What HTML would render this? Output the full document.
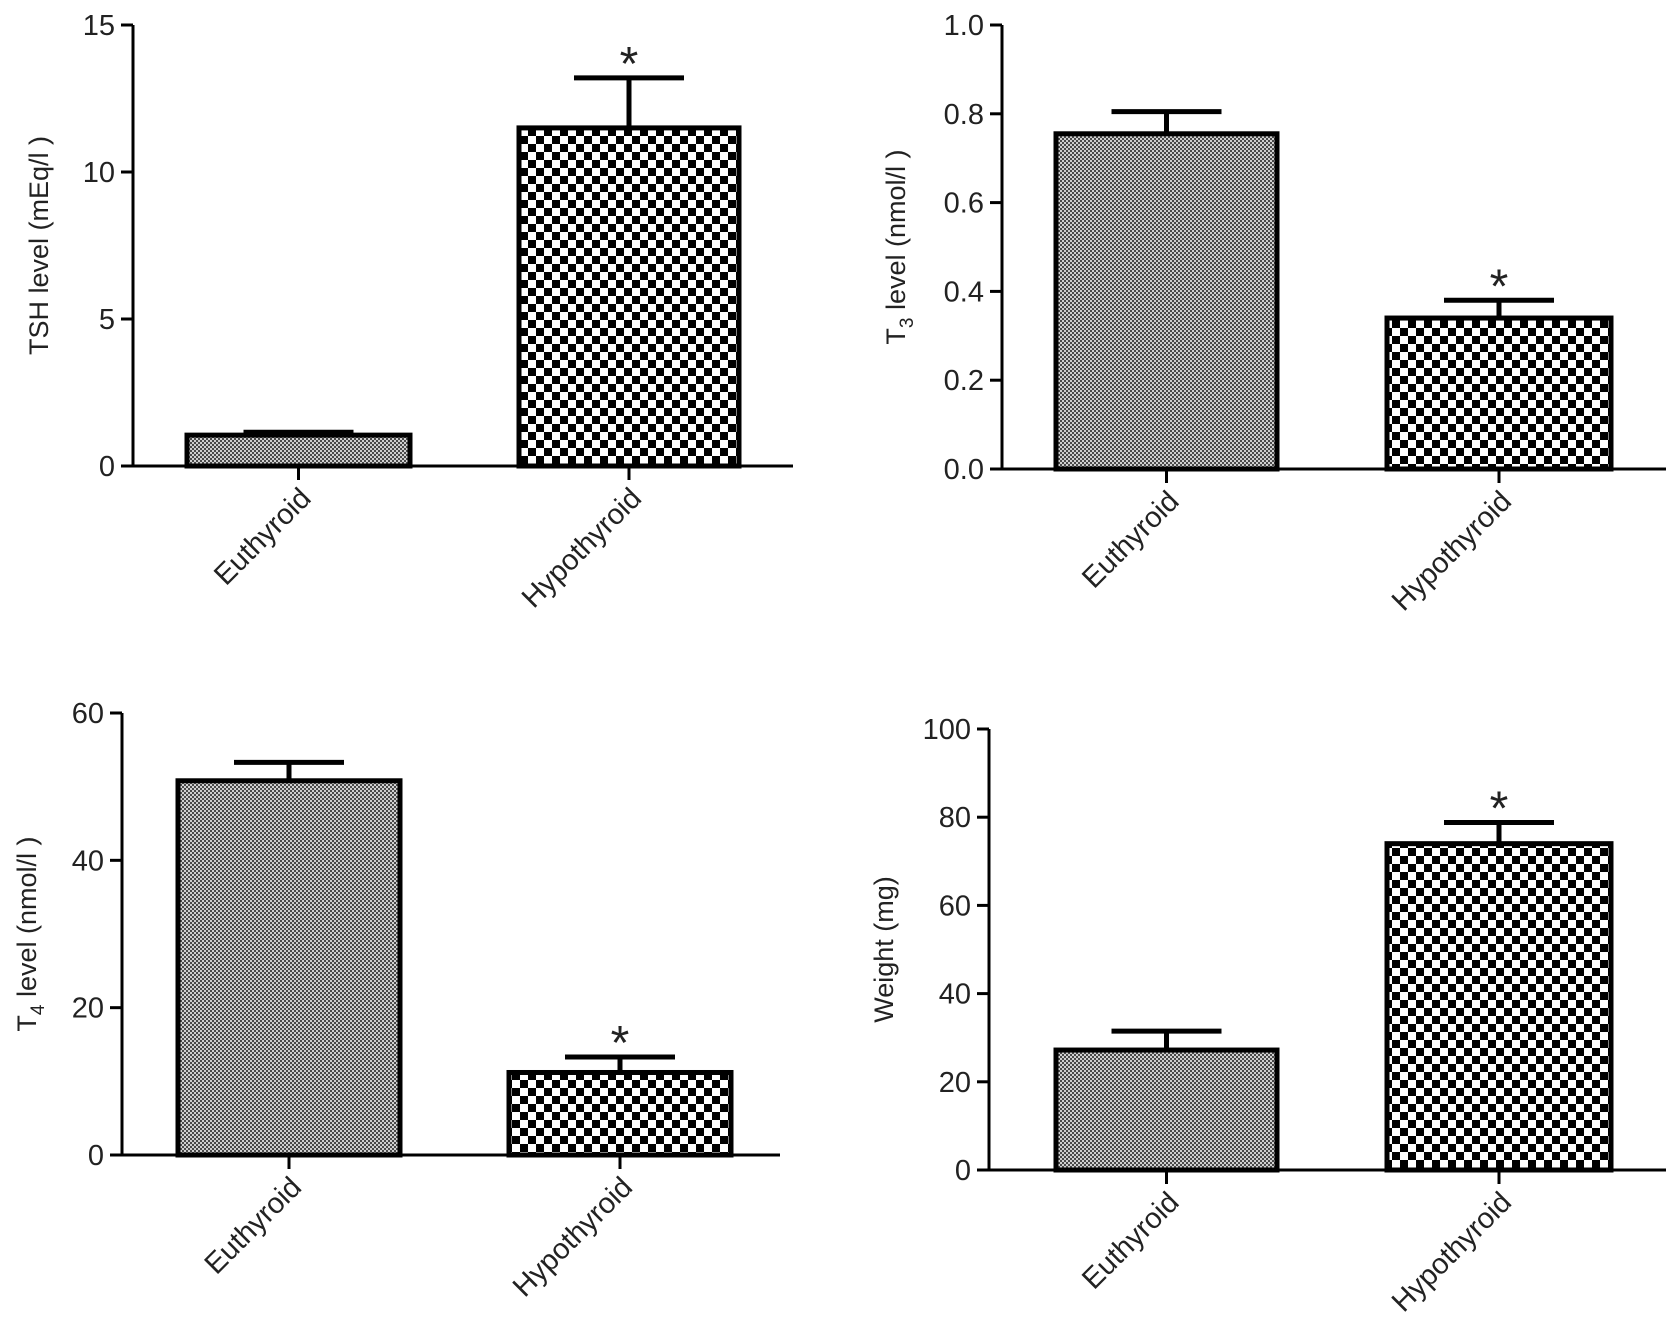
<!DOCTYPE html>
<html><head><meta charset="utf-8"><style>
html,body{margin:0;padding:0;background:#fff;}
svg{display:block;font-family:"Liberation Sans",Arial,sans-serif;}
</style></head><body>
<svg id="fig" width="1677" height="1344" viewBox="0 0 1677 1344" xmlns="http://www.w3.org/2000/svg">
<defs>
<pattern id="fine" width="4" height="4" patternUnits="userSpaceOnUse">
<rect width="4" height="4" fill="#d0d0d0"/><rect width="2" height="2" fill="#4a4a4a"/><rect x="2" y="2" width="2" height="2" fill="#4a4a4a"/>
</pattern>
<pattern id="coarse" width="16" height="16" patternUnits="userSpaceOnUse">
<rect width="16" height="16" fill="#fff"/><rect width="8" height="8" fill="#000"/><rect x="8" y="8" width="8" height="8" fill="#000"/>
</pattern>
</defs>
</svg>
<script>
const categories = ["Euthyroid", "Hypothyroid"];
const tshValues = [1.05, 11.5];
const tshErrors = [0.1, 1.7];
const tshTicks = ["0", "5", "10", "15"];
const t3Values = [0.755, 0.34];
const t3Errors = [0.05, 0.04];
const t3Ticks = ["0.0", "0.2", "0.4", "0.6", "0.8", "1.0"];
const t4Values = [50.8, 11.2];
const t4Errors = [2.5, 2.1];
const t4Ticks = ["0", "20", "40", "60"];
const weightValues = [27.2, 74];
const weightErrors = [4.3, 4.8];
const weightTicks = ["0", "20", "40", "60", "80", "100"];
const significant = [false, true];

const NS = "http://www.w3.org/2000/svg";
const svg = document.getElementById("fig");
function mk(tag, attrs, parent) {
  const e = document.createElementNS(NS, tag);
  for (const k in attrs) e.setAttribute(k, attrs[k]);
  (parent || svg).appendChild(e);
  return e;
}
const panels = [
  {key:"tsh", values:tshValues, errors:tshErrors, ticks:tshTicks, ax:133, top:25, zero:466, end:793, bars:[[187,410],[519,739]], title:"TSH level (mEq/l )", tx:48, sub:null},
  {key:"t3", values:t3Values, errors:t3Errors, ticks:t3Ticks, ax:1002, top:25, zero:469, end:1666, bars:[[1056,1277],[1387,1611]], title:"T3 level (nmol/l )", tx:905, sub:"3"},
  {key:"t4", values:t4Values, errors:t4Errors, ticks:t4Ticks, ax:122, top:713, zero:1155, end:780, bars:[[178,400],[509,731]], title:"T4 level (nmol/l )", tx:36, sub:"4"},
  {key:"weight", values:weightValues, errors:weightErrors, ticks:weightTicks, ax:989, top:729, zero:1170, end:1666, bars:[[1056,1277],[1387,1611]], title:"Weight  (mg)", tx:893, sub:null}
];
panels.forEach(p => {
  const g = mk("g", {});
  
  
  const maxV = parseFloat(p.ticks[p.ticks.length-1]);
  const y = v => p.zero - (v / maxV) * (p.zero - p.top);
  p.values.forEach((v, i) => {
    const [x0, x1] = p.bars[i];
    const r = mk("rect", {x:x0, y:y(v), width:x1-x0, height:p.zero-y(v), fill:i===0?"url(#fine)":"url(#coarse)", stroke:"#000", "stroke-width":5}, g);
    
    
    const cx = (x0 + x1) / 2, ye = y(v + p.errors[i]);
    const e = mk("path", {d:`M${cx},${y(v)} V${ye} M${cx-55},${ye} H${cx+55}`, stroke:"#000", "stroke-width":5, fill:"none"}, g);
    
    
    if (significant[i]) {
      const s = mk("text", {x:cx, y:ye+2, "text-anchor":"middle", "font-size":48, fill:"#222"}, g);
      s.textContent = "*";
      
      
    }
    mk("line", {x1:cx, x2:cx, y1:p.zero, y2:p.zero+14, stroke:"#000", "stroke-width":3}, g);
    const lx = cx + 14, ly = p.zero + 34;
    const t = mk("text", {x:lx, y:ly, "text-anchor":"end", "font-size":29, fill:"#222", transform:`rotate(-45 ${lx} ${ly})`}, g);
    t.textContent = categories[i];
    
    
  });
  const ya = mk("line", {x1:p.ax, x2:p.ax, y1:p.top, y2:p.zero, stroke:"#000", "stroke-width":3}, g);
  
  
  const xa = mk("line", {x1:p.ax-12, x2:p.end, y1:p.zero, y2:p.zero, stroke:"#000", "stroke-width":3}, g);
  
  
  p.ticks.forEach(tk => {
    const ty = y(parseFloat(tk));
    mk("line", {x1:p.ax-12, x2:p.ax, y1:ty, y2:ty, stroke:"#000", "stroke-width":3}, g);
    const t = mk("text", {x:p.ax-18, y:ty+10, "text-anchor":"end", "font-size":29, fill:"#222"}, g);
    t.textContent = tk;
    
    
  });
  const my = (p.top + p.zero) / 2;
  const tt = mk("text", {x:p.tx, y:my, "text-anchor":"middle", "font-size":27, fill:"#222", transform:`rotate(-90 ${p.tx} ${my})`}, g);
  if (p.sub) {
    const a = mk("tspan", {}, tt); a.textContent = "T";
    const b = mk("tspan", {"font-size":19, dy:8}, tt); b.textContent = p.sub;
    const c = mk("tspan", {dy:-8}, tt); c.textContent = "  level (nmol/l )";
  } else tt.textContent = p.title;
  
  
});
</script>
</body></html>
